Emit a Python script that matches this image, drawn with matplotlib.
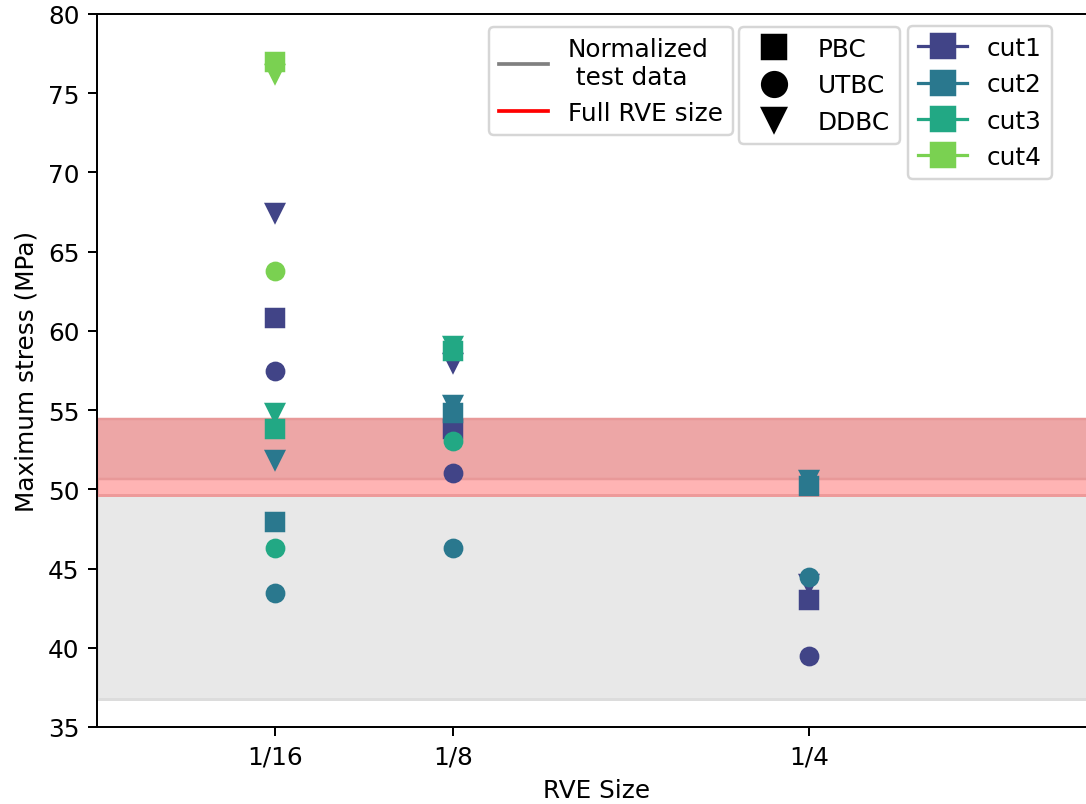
import numpy as np
import matplotlib
matplotlib.use("Agg")
import matplotlib.pyplot as plt
from matplotlib.lines import Line2D

# ---- data ----
rve_sizes = [1/16, 1/8, 1/4]
rve_labels = ["1/16", "1/8", "1/4"]
cuts = ["cut1", "cut2", "cut3", "cut4"]
bcs = ["PBC", "UTBC", "DDBC"]
bc_markers = ["s", "o", "v"]
cut_colors = ["#414487", "#2A788E", "#22A884", "#7AD151"]

nan = np.nan
# values per cut: rows = BC (PBC, UTBC, DDBC), columns = RVE size
cut1_vals = [[60.8, 53.8, 43.0], [57.5, 51.0, 39.45], [67.45, 58.0, 44.0]]
cut2_vals = [[47.95, 54.8, 50.2], [43.45, 46.3, 44.45], [51.85, 55.3, 50.6]]
cut3_vals = [[53.8, 58.75, nan], [46.3, 53.05, nan], [54.8, 59.05, nan]]
cut4_vals = [[76.95, nan, nan], [63.75, nan, nan], [76.2, nan, nan]]
all_vals = [cut1_vals, cut2_vals, cut3_vals, cut4_vals]

test_band = (36.77, 49.66)        # normalized test data (gray)
full_rve_band = (49.66, 54.42)    # full RVE size (red)
full_rve_upper = (50.65, 54.42)   # darker upper part of the red band

DPI = 178
fig = plt.figure(figsize=(1086 / DPI, 805 / DPI), dpi=DPI)
ax = fig.add_axes([96.7 / 1086, 1 - 728 / 805, 0.9995 - 96.7 / 1086 + 0.01, (728 - 15) / 805])

ax.axhspan(*test_band, facecolor="#e8e8e8", edgecolor="#dcdcdc", linewidth=1.2, zorder=1)
ax.axhspan(*full_rve_band, facecolor="#ffb4b4", edgecolor="#ee9a9a", linewidth=1.2, zorder=1)
ax.axhspan(*full_rve_upper, facecolor="#eda6a6", edgecolor="#e89999", linewidth=1.0, zorder=1)

for ci, vals in enumerate(all_vals):
    for bi, row in enumerate(vals):
        ax.plot(rve_sizes, row, linestyle="none", marker=bc_markers[bi],
                markersize=7, color=cut_colors[ci], zorder=3)

xmax = (1086 * 1.0095 - 96.7) / 2849.6
ax.set_xlim(0, xmax)
ax.set_ylim(35, 80)
ax.set_xticks(rve_sizes)
ax.set_xticklabels(rve_labels)
ax.set_yticks(np.arange(35, 81, 5))
ax.set_xlabel("RVE Size")
ax.set_ylabel("Maximum stress (MPa)")

# legends
h1 = [Line2D([], [], color="gray", lw=1.5), Line2D([], [], color="red", lw=1.5)]
leg1 = fig.legend(h1, ["Normalized\n test data", "Full RVE size"], loc="upper left",
                  bbox_to_anchor=(489 / 1086, 1 - 28 / 805), borderaxespad=0)
h2 = [Line2D([], [], linestyle="none", marker=m, color="black", markersize=10) for m in bc_markers]
leg2 = fig.legend(h2, bcs, loc="upper left",
                  bbox_to_anchor=(739 / 1086, 1 - 28 / 805), borderaxespad=0)
h3 = [Line2D([], [], color=c, lw=1.3, marker="s", markersize=10) for c in cut_colors]
leg3 = fig.legend(h3, cuts, loc="upper left",
                  bbox_to_anchor=(908 / 1086, 1 - 27 / 805), borderaxespad=0)

fig.savefig("out.png", dpi=DPI)
